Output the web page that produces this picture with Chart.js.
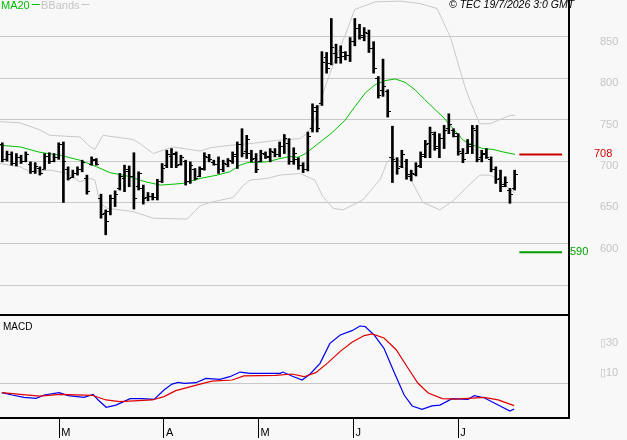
<!DOCTYPE html>
<html><head><meta charset="utf-8">
<script src="https://cdn.jsdelivr.net/npm/chart.js@4"></script>
<style>
html,body{margin:0;padding:0;background:#f8f8f8;}
#wrap{position:relative;width:627px;height:440px;overflow:hidden;background:#f8f8f8;}
#c1{position:absolute;left:0;top:0;}
#c2{position:absolute;left:0;top:315px;}
</style></head><body>
<div id="wrap"><canvas id="c1" width="627" height="317"></canvas><canvas id="c2" width="627" height="125"></canvas></div>
<script>
// ---- price bars (one per trading day) ----
const highs = [722,712,711,709,707,711,699,698,693,709,710,709,722,723,693,689,693,701,683,705,703,660,641,659,664,685,695,694,710,687,671,662,661,678,697,713,715,711,707,701,699,691,693,710,708,701,705,701,703,711,723,739,731,713,709,713,711,715,715,723,732,727,716,704,698,735,769,767,832,831,872,841,839,832,849,872,865,861,858,844,802,823,786,742,704,713,702,689,698,711,725,741,735,733,743,757,739,733,715,726,743,743,713,715,705,693,689,681,667,689];
const lows  = [699,700,695,694,697,699,685,685,683,690,697,699,702,650,677,680,683,687,660,695,695,631,611,635,645,665,663,669,642,665,648,652,653,653,674,692,692,692,695,671,673,677,681,689,699,695,685,687,693,697,691,705,703,699,686,699,703,699,705,705,709,696,696,690,686,688,735,735,767,806,816,818,818,822,820,839,847,845,831,806,776,778,753,674,684,692,678,676,682,692,704,704,713,704,715,733,729,707,698,709,709,699,699,703,687,673,663,669,649,665];
const opens = [720,703,708,698,705,700,697,688,692,690,706,700,705,720,690,681,686,690,680,697,701,655,637,640,655,668,680,688,682,670,668,656,658,656,676,695,706,708,697,700,676,690,682,691,705,699,697,690,697,700,706,720,712,710,704,700,708,705,711,708,718,722,700,702,695,690,740,760,770,825,818,830,826,827,828,845,860,850,855,836,800,786,784,705,700,694,700,682,684,695,708,722,733,716,728,740,738,730,710,710,718,738,705,708,703,690,680,672,665,668];
const closes= [703,708,698,705,700,708,688,694,686,706,700,705,720,700,680,686,690,699,664,702,697,636,628,655,660,682,690,682,655,685,655,658,656,676,692,708,710,695,705,676,695,680,690,706,702,697,690,698,701,708,720,710,726,702,690,710,706,712,708,718,728,700,710,695,690,730,765,740,820,812,838,825,832,828,845,860,852,856,836,812,780,790,760,702,692,708,684,685,694,706,720,735,718,728,738,745,734,712,702,720,740,703,710,705,690,678,670,675,660,684];

// ---- MA20 and Bollinger bands (bar position, value) ----
const ma20Pos = [-0.5,3.8,8.0,12.3,16.5,20.1,22.9,26.5,30.4,33.6,36.3,38.4,42.1,45.7,48.4,50.6,52.1,56.3,59.1,61.2,62.9,64.4,67.2,70.1,72.9,75.0,77.2,79.3,81.4,83.6,85.7,87.8,89.9,92.1,93.8,95.9,98.1,100.2,102.3,104.4,106.5,109.1];
const ma20Val = [719,717,710.5,707,701,693,686,682,675,671,672,673,679,683,687,695,698,699,703,705.5,704.5,708.5,721,734,749,765.5,782,792,797,799,795,786,774,762,753,739,725,719,715,714,711,708];
const bbUpPos = [-0.5,3.8,8.0,10.1,16.5,18.7,19.7,20.8,21.4,27.8,29.3,32.1,36.3,42.1,44.2,48.4,52.7,58.4,63.3,64.8,66.5,68.7,70.8,72.9,75.0,79.3,84.6,88.9,92.5,95.3,96.7,98.4,99.5,101.6,103.8,108.0,109.1];
const bbUpVal = [747.5,746,737.5,731,729,717,714,725,731,726,721,709,717,712,716,719,721,725,727,733,749,790,822,851,883,892,893,890,884,850,823,790,773,745,745,755,755];
const bbLoPos = [-0.5,3.8,5.9,10.1,13.8,16.5,18.7,19.7,20.8,22.3,27.8,32.1,39.3,42.1,44.2,49.1,51.2,52.7,56.3,59.1,63.3,66.5,68.2,70.4,72.5,76.7,80.4,81.9,83.1,84.6,86.7,89.5,93.1,95.9,99.5,101.6,103.8,105.9,107.4,109.1];
const bbLoVal = [697,693,687,689,685,675,679,677,649,643,639,631,630,646,650,656,670,677,679,683,685,677,657,643,641,653,678,699,705,700,680,650,641,652,672,683,683,677,669,661];

// ---- MACD (bar position, value) ----
const macdPos = [-0.1,2.1,4.6,7.2,8.9,12.1,14.0,17.4,19.3,20.4,22.1,24.2,27.2,29.7,32.3,34.4,36.1,37.4,38.7,41.2,43.3,46.3,48.4,50.6,52.7,59.1,59.7,61.6,63.8,65.5,67.6,69.7,71.9,74.4,76.1,77.2,79.1,81.2,83.3,85.5,87.2,89.3,91.4,93.1,95.7,99.1,100.4,102.5,105.5,108.0,108.9];
const macdVal = [-6.4,-8,-9.6,-10.2,-8,-6.4,-8.4,-9.6,-7.6,-11.3,-16.2,-14.7,-10.4,-10.4,-10.9,-4.7,-0.7,0.4,-0.2,0.2,3.1,2.4,4.2,7.3,6.4,6.4,7.3,4.7,2,6,13.1,26.4,32,34.9,38,37.6,32,23.1,7.6,-8,-15.3,-17.6,-15.3,-14.7,-10.4,-10.9,-8.4,-9.8,-14.7,-18.7,-17.3];
const sigPos = [-0.1,3.8,8.0,12.3,19.1,22.1,25.0,31.9,34.4,36.9,39.5,42.1,44.6,48.9,51.4,58.2,61.6,64.2,66.7,69.3,71.9,74.4,77.0,78.7,81.2,83.8,86.3,88.4,90.6,93.6,96.5,102.5,105.5,108.9];
const sigVal = [-6.4,-7.6,-8.7,-7.6,-8.2,-11.3,-12.4,-11.3,-9.1,-5.1,-2.9,-0.7,1.3,2,4.7,5.1,6,4.2,6.9,13.6,21.1,27.1,31.6,32.7,30,22.2,10,0,-6.7,-10.4,-10.7,-9.6,-11.3,-15.1];

// ---- levels ----
const levelVals = [708, 590];
const levelColors = ['#cc0000', '#00a000'];
const levelFrom = 110.0, levelTo = 119.1;

// ---- ticks ----
const yTickLabels = [600, 650, 700, 750, 800, 850];
const monthLabels = ['M', 'A', 'M', 'J', 'J'];
const monthPos = [12.1, 34.4, 54.5, 74.7, 97.0];
const macdTickVals = [10, 30];
const macdTickText = ['\u25AF10', '\u25AF30'];

const X_MIN = -0.49, X_MAX = 120.57;
const GRID = '#c8c8c8';
const LBL = '#c4c4c4';
const NARROW = "'Liberation Sans Narrow','Liberation Sans',sans-serif";

Chart.defaults.font.family = "'Liberation Sans',Arial,sans-serif";

const pts = (p, v) => p.map((x, i) => ({x, y: v[i]}));
const zeroPad = s => { s.paddingTop = 0; s.paddingBottom = 0; s.paddingLeft = 0; s.paddingRight = 0; };

const ohlcTicks = {
  id: 'ohlcTicks',
  afterDatasetsDraw(chart) {
    const {ctx, scales: {x, y}} = chart;
    ctx.save();
    ctx.fillStyle = '#000';
    for (let i = 0; i < highs.length; i++) {
      const px = Math.round(x.getPixelForValue(i));
      ctx.fillRect(px - 3, Math.round(y.getPixelForValue(opens[i])), 2, 1);
      ctx.fillRect(px + 1, Math.round(y.getPixelForValue(closes[i])), 2, 1);
    }
    ctx.restore();
  }
};

const topTexts = {
  id: 'topTexts',
  afterDraw(chart) {
    const {ctx, scales: {y}, chartArea} = chart;
    ctx.save();
    ctx.textBaseline = 'top';
    ctx.font = "11px " + NARROW;
    ctx.fillStyle = '#00c000';
    ctx.fillText('MA20', 1, 0);
    let w = ctx.measureText('MA20').width;
    ctx.fillRect(w + 3, 4, 8, 1);
    ctx.fillStyle = '#c4c4c4';
    ctx.fillText('BBands', 41, 0);
    w = ctx.measureText('BBands').width;
    ctx.fillRect(41 + w + 2, 4, 8, 1);
    ctx.fillStyle = '#000';
    ctx.font = "italic 10.5px 'Liberation Sans',Arial,sans-serif";
    ctx.fillText('\u00A9 TEC 19/7/2026 3:0 GMT', 449, 0);
    // level labels
    ctx.textBaseline = 'middle';
    ctx.font = "11px " + NARROW;
    ctx.fillStyle = levelColors[0];
    ctx.fillText(String(levelVals[0]), chartArea.right + 25, y.getPixelForValue(levelVals[0]));
    ctx.fillStyle = levelColors[1];
    ctx.fillText(String(levelVals[1]), chartArea.right + 1, y.getPixelForValue(levelVals[1]));
    ctx.restore();
  }
};

const macdTitle = {
  id: 'macdTitle',
  afterDraw(chart) {
    const {ctx} = chart;
    ctx.save();
    ctx.textBaseline = 'top';
    ctx.font = "10px 'Liberation Sans',Arial,sans-serif";
    ctx.fillStyle = '#000';
    ctx.fillText('MACD', 3, 7);
    ctx.restore();
  }
};

const idx = highs.map((_, i) => i);

new Chart(document.getElementById('c1'), {
  type: 'bar',
  data: {
    datasets: [
      { type: 'bar', data: idx.map(i => ({x: i, y: [lows[i], highs[i]]})), backgroundColor: '#000', barThickness: 2, order: 0 },
      { type: 'line', data: pts(ma20Pos, ma20Val), borderColor: '#00c000', borderWidth: 1, pointRadius: 0, tension: 0, order: 1 },
      { type: 'line', data: pts(bbUpPos, bbUpVal), borderColor: GRID, borderWidth: 1, pointRadius: 0, tension: 0, order: 2 },
      { type: 'line', data: pts(bbLoPos, bbLoVal), borderColor: GRID, borderWidth: 1, pointRadius: 0, tension: 0, order: 2 },
      { type: 'line', data: [{x: levelFrom, y: levelVals[0]}, {x: levelTo, y: levelVals[0]}], borderColor: levelColors[0], borderWidth: 2, pointRadius: 0, order: 1 },
      { type: 'line', data: [{x: levelFrom, y: levelVals[1]}, {x: levelTo, y: levelVals[1]}], borderColor: levelColors[1], borderWidth: 2, pointRadius: 0, order: 1 }
    ]
  },
  options: {
    responsive: false, animation: false, devicePixelRatio: 1, events: [],
    layout: { padding: 0 },
    plugins: { legend: { display: false }, tooltip: { enabled: false } },
    scales: {
      x: { type: 'linear', min: X_MIN, max: X_MAX, offset: false,
           grid: { display: false, drawTicks: false }, ticks: { display: false },
           border: { display: true, color: '#000', width: 2 },
           afterFit(s) { s.height = 2; zeroPad(s); } },
      y: { type: 'linear', position: 'right', min: 514.2, max: 894.3,
           grid: { color: GRID, drawTicks: false, lineWidth: 1 },
           border: { display: true, color: '#000', width: 2 },
           ticks: { stepSize: 50, includeBounds: false, padding: 31, labelOffset: 5, color: LBL,
                    font: { size: 11 }, callback: v => yTickLabels.includes(v) ? String(v) : '' },
           afterFit(s) { s.width = 58; zeroPad(s); } }
    }
  },
  plugins: [ohlcTicks, topTexts]
});

new Chart(document.getElementById('c2'), {
  type: 'line',
  data: {
    datasets: [
      { data: pts(sigPos, sigVal), borderColor: '#e00000', borderWidth: 1.2, pointRadius: 0, tension: 0 },
      { data: pts(macdPos, macdVal), borderColor: '#0000f0', borderWidth: 1.2, pointRadius: 0, tension: 0 }
    ]
  },
  options: {
    responsive: false, animation: false, devicePixelRatio: 1, events: [],
    layout: { padding: 0 },
    plugins: { legend: { display: false }, tooltip: { enabled: false } },
    scales: {
      x: { type: 'linear', min: X_MIN, max: X_MAX, offset: false,
           afterBuildTicks(s) { s.ticks = monthPos.map(v => ({value: v})); },
           grid: { display: true, drawOnChartArea: false, drawTicks: true, tickLength: 20, color: '#000', tickColor: '#000', tickWidth: 1, lineWidth: 1 },
           border: { display: true, color: '#000', width: 2 },
           ticks: { autoSkip: false, maxRotation: 0, minRotation: 0, align: 'start', labelOffset: 2, padding: -12,
                    color: '#000', font: { size: 11 }, callback: (v, i) => monthLabels[i] },
           afterFit(s) { s.height = 22; zeroPad(s); } },
      y: { type: 'linear', position: 'right', min: -23.33, max: 45.33,
           grid: { drawTicks: false, color: c => (c.tick && c.tick.value === 0) ? GRID : 'rgba(0,0,0,0)' },
           border: { display: true, color: '#000', width: 2 },
           ticks: { stepSize: 10, includeBounds: false, padding: 31, labelOffset: 5, color: LBL,
                    font: { size: 11 }, callback: v => { const k = macdTickVals.indexOf(v); return k >= 0 ? macdTickText[k] : ''; } },
           afterFit(s) { s.width = 58; zeroPad(s); } }
    }
  },
  plugins: [macdTitle]
});
</script>
</body></html>
